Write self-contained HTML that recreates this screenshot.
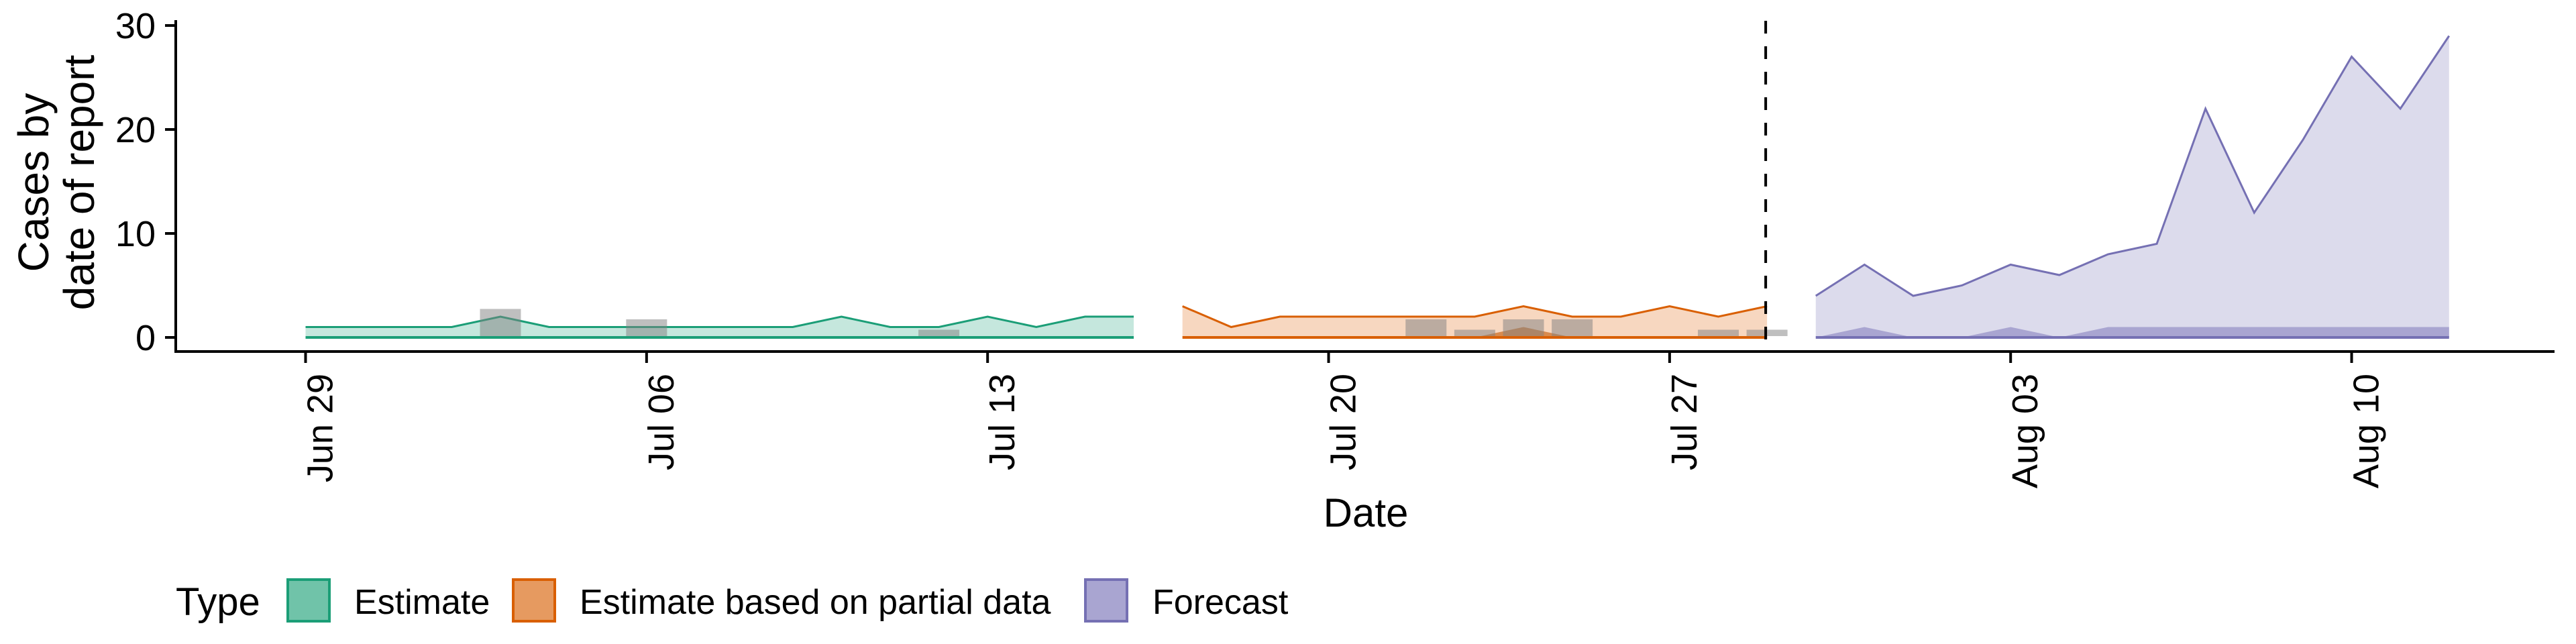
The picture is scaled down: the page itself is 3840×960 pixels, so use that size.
<!DOCTYPE html>
<html><head><meta charset="utf-8"><style>
html,body{margin:0;padding:0;background:#fff;}
svg{display:block;font-family:"Liberation Sans",Arial,sans-serif;}
</style></head><body>
<svg id="chart" width="3840" height="960" viewBox="0 0 3840 960" xmlns="http://www.w3.org/2000/svg">
<g id="plot"></g>
<g id="axes"></g>
<g id="legend"></g>
</svg>
<script>
// ---- data ----
const xTickLabels = ["Jun 29","Jul 06","Jul 13","Jul 20","Jul 27","Aug 03","Aug 10"];
const xTickDays = [0,7,14,21,28,35,42];
const yTicks = [0,10,20,30];
// days are offsets from Jun 29
const estDays = [0,1,2,3,4,5,6,7,8,9,10,11,12,13,14,15,16,17];
const estUpper = [1,1,1,1,2,1,1,1,1,1,1,2,1,1,2,1,2,2];
const estInner = [0,0,0,0,0,0,0,0,0,0,0,0,0,0,0,0,0,0];
const partDays = [18,19,20,21,22,23,24,25,26,27,28,29,30];
const partUpper = [3,1,2,2,2,2,2,3,2,2,3,2,3];
const partInner = [0,0,0,0,0,0,0,1,0,0,0,0,0];
const fcDays = [31,32,33,34,35,36,37,38,39,40,41,42,43,44];
const fcUpper = [4,7,4,5,7,6,8,9,22,12,19,27,22,29];
const fcInner = [0,1,0,0,1,0,1,1,1,1,1,1,1,1];
const obsDays = [4,7,13,23,24,25,26,29,30];
const obsValues = [3,2,1,2,1,2,2,1,1];
const dividerDay = 30;

// ---- scales ----
const X0 = 455.5, PX_DAY = 72.62;
const Y0 = 503, PX_UNIT = 15.5;
const x = d => X0 + d * PX_DAY;
const y = v => Y0 - v * PX_UNIT;
const NS = "http://www.w3.org/2000/svg";
function mk(tag, attrs, parent){
  const e = document.createElementNS(NS, tag);
  for (const k in attrs) e.setAttribute(k, attrs[k]);
  parent.appendChild(e); return e;
}
const plot = document.getElementById('plot');
const axes = document.getElementById('axes');
const legend = document.getElementById('legend');

function ribbon(days, upper, inner, line, fillOuter, fillInner, name){
  const g = mk('g', {}, plot);
  
  
  const top = days.map((d,i)=>x(d)+','+y(upper[i])).join(' ');
  const base = days.slice().reverse().map(d=>x(d)+','+y(0)).join(' ');
  const outer = mk('polygon', {points: top+' '+base, fill: fillOuter}, g);
  
  
  const itop = days.map((d,i)=>x(d)+','+y(inner[i])).join(' ');
  const inn = mk('polygon', {points: itop+' '+base, fill: fillInner}, g);
  
  
  const l1 = mk('polyline', {points: top, fill:'none', stroke: line, 'stroke-width': 3}, g);
  
  
  const l2 = mk('polyline', {points: days.map(d=>x(d)+','+y(0)).join(' '), fill:'none', stroke: line, 'stroke-width': 4}, g);
  
  
}
ribbon(estDays, estUpper, estInner, '#1b9e77', '#c5e7dd', '#8fd0bc', 'estimate');
ribbon(partDays, partUpper, partInner, '#d95f02', '#f7d7c0', '#d88a4e', 'partial');
ribbon(fcDays, fcUpper, fcInner, '#7570b3', '#dcdbec', '#a9a5d1', 'forecast');

// observed bars
const bw = 0.84 * PX_DAY;
obsDays.forEach((d,i)=>{
  const r = mk('rect', {x: x(d)-bw/2, y: y(obsValues[i])+4, width: bw, height: y(0)-y(obsValues[i])-6, fill:'rgba(128,128,128,0.5)'}, plot);
  
  
});

// divider
const dv = mk('line', {x1: x(dividerDay)-2, x2: x(dividerDay)-2, y1: 31, y2: 524, stroke:'#000', 'stroke-width':4, 'stroke-dasharray':'19 19'}, plot);



// axes
const ya = mk('line', {x1:262, x2:262, y1:30, y2:526, stroke:'#000', 'stroke-width':4}, axes);


const xa = mk('line', {x1:260, x2:3808, y1:524, y2:524, stroke:'#000', 'stroke-width':4}, axes);


yTicks.forEach(v=>{
  const t = mk('line', {x1:246, x2:262, y1:y(v), y2:y(v), stroke:'#000', 'stroke-width':4}, axes);
  
  
  const l = mk('text', {x:232, y:y(v)+19, 'text-anchor':'end', 'font-size':54, fill:'#000'}, axes);
  
  
  l.textContent = v;
});
xTickDays.forEach((d,i)=>{
  const t = mk('line', {x1:x(d), x2:x(d), y1:524, y2:541, stroke:'#000', 'stroke-width':4}, axes);
  
  
  const bx = x(d)+40, by = 557;
  const l = mk('text', {x:bx, y:by, 'text-anchor':'end', 'font-size':54, fill:'#000', transform:'rotate(-90 '+bx+' '+by+')'}, axes);
  
  
  l.textContent = xTickLabels[i];
});
const xt = mk('text', {x:2036, y:785, 'text-anchor':'middle', 'font-size':60, fill:'#000'}, axes);


xt.textContent = 'Date';
[['Cases by', 72], ['date of report', 140]].forEach(([s, bx])=>{
  const t = mk('text', {x:bx, y:272, 'text-anchor':'middle', 'font-size':64, fill:'#000', transform:'rotate(-90 '+bx+' 272)'}, axes);
  
  
  t.textContent = s;
});

// legend
const lt = mk('text', {x:262, y:917, 'font-size':58, fill:'#000'}, legend);


lt.textContent = 'Type';
const legendItems = [
  {label:'Estimate', kx:429, tx:528, stroke:'#1b9e77', fill:'#70c3a9'},
  {label:'Estimate based on partial data', kx:765, tx:864, stroke:'#d95f02', fill:'#e69a60'},
  {label:'Forecast', kx:1618, tx:1718, stroke:'#7570b3', fill:'#a9a5d1'}
];
legendItems.forEach(it=>{
  const g = mk('g', {}, legend);
  
  
  const r = mk('rect', {x:it.kx, y:864, width:62, height:62, fill:it.fill, stroke:it.stroke, 'stroke-width':4}, g);
  
  
  const t = mk('text', {x:it.tx, y:915, 'font-size':52, fill:'#000'}, g);
  
  
  t.textContent = it.label;
});
</script>
</body></html>
